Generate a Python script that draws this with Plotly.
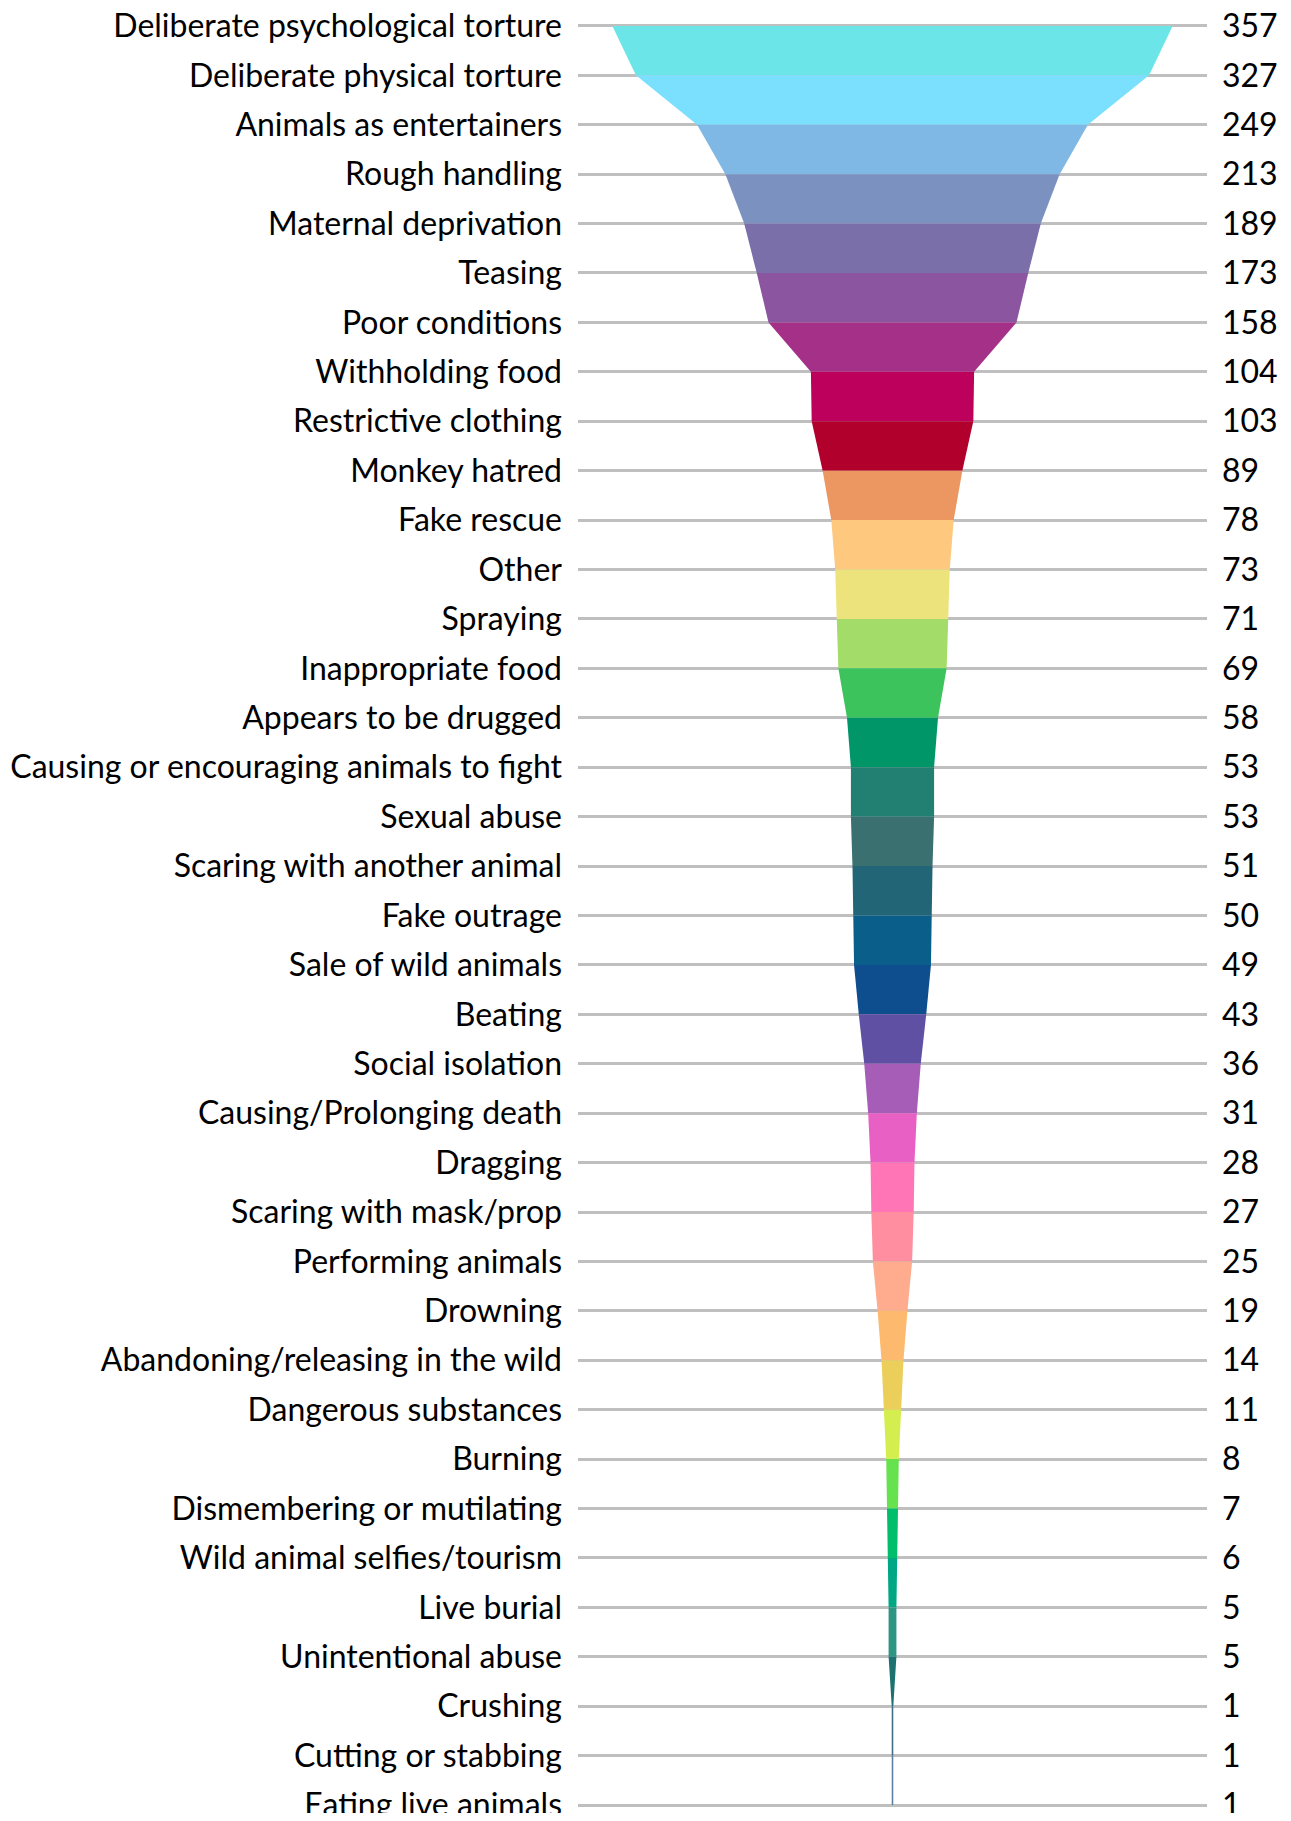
import plotly.graph_objects as go

categories = [
    "Deliberate psychological torture", "Deliberate physical torture", "Animals as entertainers",
    "Rough handling", "Maternal deprivation", "Teasing", "Poor conditions", "Withholding food",
    "Restrictive clothing", "Monkey hatred", "Fake rescue", "Other", "Spraying",
    "Inappropriate food", "Appears to be drugged", "Causing or encouraging animals to fight",
    "Sexual abuse", "Scaring with another animal", "Fake outrage", "Sale of wild animals",
    "Beating", "Social isolation", "Causing/Prolonging death", "Dragging",
    "Scaring with mask/prop", "Performing animals", "Drowning",
    "Abandoning/releasing in the wild", "Dangerous substances", "Burning",
    "Dismembering or mutilating", "Wild animal selfies/tourism", "Live burial",
    "Unintentional abuse", "Crushing", "Cutting or stabbing", "Eating live animals",
]
values = [357, 327, 249, 213, 189, 173, 158, 104, 103, 89, 78, 73, 71, 69, 58, 53, 53, 51,
          50, 49, 43, 36, 31, 28, 27, 25, 19, 14, 11, 8, 7, 6, 5, 5, 1, 1, 1]
colors = [
    "#6CE5E8", "#7BDFFE", "#7FB8E5", "#7B92C1", "#7B6FAA", "#8B55A0", "#A53088", "#BC005C",
    "#B0002B", "#EC9661", "#FEC97E", "#EDE37C", "#A3DC68", "#3CC35B", "#009668", "#228073",
    "#3A7070", "#226577", "#0A5F8A", "#0E4D8E", "#5F50A4", "#A65DB8", "#E960C4", "#FF75B5",
    "#FF8FA0", "#FFAB8E", "#FDB96E", "#EBCF5A", "#D4EE50", "#66E24E", "#00BE6A", "#00A784",
    "#2D9582", "#1B7270", "#3E6C84", "#5B7FA0",
]

n = len(categories)
idx = list(range(n))
fig = go.Figure()

for i in range(n - 1):
    a, b = values[i] / 2, values[i + 1] / 2
    fig.add_trace(go.Scatter(
        x=[-a, a, b, -b, -a], y=[i, i, i + 1, i + 1, i],
        fill="toself", fillcolor=colors[i], mode="lines",
        line=dict(width=0, color=colors[i]), hoverinfo="skip", showlegend=False,
    ))

fig.add_trace(go.Scatter(x=[0], y=[0], yaxis="y2", mode="markers",
                         marker=dict(opacity=0), showlegend=False, hoverinfo="skip"))

font = dict(family="Lato", size=32, color="#000000")
rng = [n - 1 + 0.1, -0.2]
fig.update_layout(
    width=1275, height=1805,
    margin=dict(l=570, r=76, t=8, b=3),
    paper_bgcolor="white", plot_bgcolor="white",
    showlegend=False,
    xaxis=dict(range=[-200.4, 200.4], visible=False, showgrid=False, zeroline=False),
    yaxis=dict(range=rng, tickmode="array", tickvals=idx, ticktext=categories,
               showgrid=True, gridcolor="#BFBFBF", gridwidth=3, zeroline=False,
               showline=False, ticks="", tickfont=font, ticklabelstandoff=15,
               automargin=False, ticklabeloverflow="allow"),
    yaxis2=dict(range=rng, overlaying="y", side="right", tickmode="array", tickvals=idx,
                ticktext=[str(v) for v in values], showgrid=False, zeroline=False,
                showline=False, ticks="", tickfont=font, ticklabelstandoff=14,
                automargin=False, ticklabeloverflow="allow"),
)

fig.write_html("out.html")
